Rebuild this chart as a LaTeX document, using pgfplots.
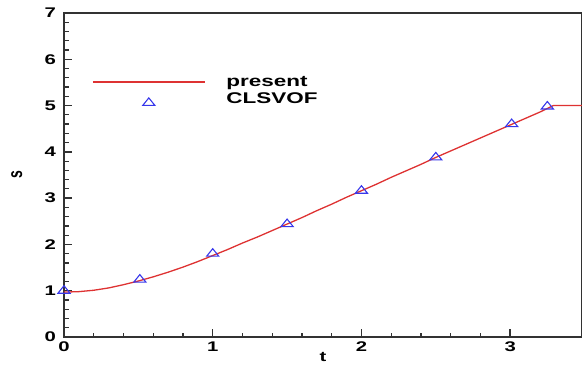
\documentclass[border=0pt]{standalone}
\usepackage{graphicx}
\usepackage{fontspec}
\setmainfont{Liberation Sans}
\usepackage{pgfplots}
\pgfplotsset{compat=1.18}
\definecolor{curvered}{RGB}{222,50,50}
\definecolor{markblue}{RGB}{55,55,235}
\definecolor{axisgray}{RGB}{50,50,50}
% wide bold sans lettering
\newcommand\wide[1]{\scalebox{1.45}[1]{#1}}
\newcommand\lbl{\bfseries\fontsize{14}{14}\selectfont}
\newcommand\leg{\bfseries\fontsize{15.5}{15.5}\selectfont}
% long legend samples
\pgfplotsset{
  longline/.style={legend image code/.code={\draw[##1] (0pt,0pt) -- (112pt,0pt);}},
  centermark/.style={legend image code/.code={\draw[mark repeat=2,mark phase=2,##1] plot coordinates {(0pt,-4pt) (56pt,-4pt) (112pt,-4pt)};}},
}

\begin{document}
\begin{tikzpicture}
\begin{axis}[
  scale only axis, width=518pt, height=324pt,
  xmin=0, xmax=3.483, ymin=0, ymax=7,
  axis line style={draw=axisgray, line width=1.7pt},
  xtick={0,1,2,3}, ytick={0,1,2,3,4,5,6,7},
  minor tick num=4,
  tick pos=left,
  tick align=inside,
  major tick length=8pt, minor tick length=4.5pt,
  major tick style={color=axisgray, line width=1.4pt},
  minor tick style={color=axisgray, line width=1.2pt},
  /pgf/number format/assume math mode=true,
  xticklabel={\wide{\lbl\pgfmathprintnumber{\tick}}},
  yticklabel={\wide{\lbl\pgfmathprintnumber{\tick}}},
  xticklabel style={inner sep=0pt, anchor=north, yshift=-5pt},
  yticklabel style={inner sep=0pt, anchor=east, xshift=-8pt},
  xlabel={\wide{\lbl t}},
  ylabel={\scalebox{1}[1.45]{\lbl s}},
  every axis x label/.style={at={(axis description cs:0.5,0)}, anchor=north, yshift=-15pt, inner sep=0pt},
  every axis y label/.style={at={(axis description cs:-0.091,0.5)}, rotate=90, anchor=center, inner sep=0pt},
  legend cell align=left,
  legend style={
    at={(axis description cs:0.054,0.76)}, anchor=west,
    draw=none, fill=none, inner sep=0pt, row sep=5pt,
    font=\leg,
    nodes={inner sep=0pt},
    /tikz/every odd column/.append style={column sep=21pt},
  },
]
% present solution
\addplot[curvered, line width=1.3pt, longline]
  coordinates {
  (0.00,0.97) (0.10,0.98) (0.20,1.01) (0.30,1.06) (0.40,1.13)
  (0.50,1.21) (0.60,1.30) (0.70,1.40) (0.80,1.51) (0.90,1.63)
  (1.00,1.76) (1.10,1.89) (1.20,2.03) (1.30,2.16) (1.40,2.30)
  (1.50,2.44) (1.60,2.58) (1.70,2.73) (1.80,2.87) (1.90,3.02)
  (2.00,3.16) (2.10,3.30) (2.20,3.45) (2.30,3.59) (2.40,3.73)
  (2.50,3.88) (2.60,4.02) (2.70,4.16) (2.80,4.30) (2.90,4.44)
  (3.00,4.58) (3.10,4.72) (3.20,4.86) (3.29,5.00) (3.483,5.00)
  };
\addlegendentry{\wide{present}}
% CLSVOF reference values
\addplot[only marks, mark=triangle, mark size=5pt,
  mark options={draw=markblue, line width=1.1pt, xscale=1.4}, centermark]
  coordinates {
  (0.00,1.00) (0.51,1.24) (1.00,1.80) (1.50,2.44)
  (2.00,3.16) (2.50,3.88) (3.01,4.60) (3.25,4.98)
  };
\addlegendentry{\wide{CLSVOF}}
\end{axis}
\pgfresetboundingbox
\useasboundingbox (-64pt,-28pt) rectangle (518pt,337pt);
\end{tikzpicture}
\end{document}
